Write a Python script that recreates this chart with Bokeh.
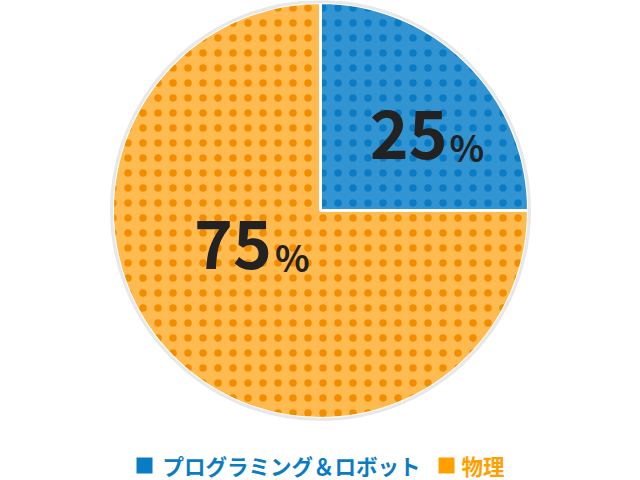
import math
from bokeh.plotting import figure
from bokeh.models import Range1d, ColumnDataSource
from bokeh.core.properties import value
from bokeh.embed import file_html
from bokeh.resources import INLINE

# ---- data ----
categories = ["プログラミング＆ロボット", "物理"]
shares = [25, 75]
pct_numbers = ["25", "75"]
pct_sign = ["%", "%"]
fill_colors = ["#3394D2", "#FFBB4F"]
dot_colors = ["#0A7CC6", "#F28D00"]
legend_colors = ["#0A7CC4", "#FF9F00"]

# ---- layout ----
W, H = 640, 480
cx, cy, R = 320, 270, 208

p = figure(width=W, height=H, x_range=Range1d(0, W), y_range=Range1d(0, H),
           output_backend="svg", toolbar_location=None, min_border=0)
p.axis.visible = False
p.grid.visible = False
p.outline_line_color = None
p.background_fill_color = "white"
p.border_fill_color = "white"

total = float(sum(shares))
starts, ends, mids = [], [], []
cum = 0.0
for s in shares:
    a0 = math.pi / 2 - cum / total * 2 * math.pi
    cum += s
    a1 = math.pi / 2 - cum / total * 2 * math.pi
    starts.append(a0)
    ends.append(a1)
    mids.append((a0 + a1) / 2)

src = ColumnDataSource(dict(start=starts, end=ends, fill=fill_colors, dots=dot_colors))
p.wedge(x=cx, y=cy, radius=R, start_angle="start", end_angle="end", direction="clock",
        fill_color="fill", line_color="white", line_width=3,
        hatch_pattern=".", hatch_scale=15, hatch_color="dots", source=src)
p.circle(x=[cx], y=[cy], radius=R + 1, fill_color=None, line_color="#E8E8E8", line_width=3)

# percent labels (anchored at mid-angle, then nudged in screen pixels)
lab_r = [126, 80]
num_dx = [38, 8]
num_dy = [13, -23]
sign_dx = [40, 11]
sign_dy = [25, -11]
num_x, num_y = [], []
for i, m in enumerate(mids):
    num_x.append(cx + lab_r[i] * math.cos(m))
    num_y.append(cy + lab_r[i] * math.sin(m))
lsrc = ColumnDataSource(dict(x=num_x, y=num_y, num=pct_numbers, sign=pct_sign,
                             ndx=num_dx, ndy=num_dy, sdx=sign_dx, sdy=sign_dy))
p.text(x="x", y="y", text="num", source=lsrc, text_font=value("Noto Sans CJK JP"),
       text_font_style="bold", text_font_size="66px", text_color="#222222",
       text_align="right", text_baseline="middle", x_offset="ndx", y_offset="ndy")
p.text(x="x", y="y", text="sign", source=lsrc, text_font=value("Noto Sans CJK JP"),
       text_font_style="bold", text_font_size="36px", text_color="#222222",
       text_align="left", text_baseline="middle", x_offset="sdx", y_offset="sdy")

# legend
leg_y = 15
sq_x = [144, 446]
tx_x = [162, 461]
gsrc = ColumnDataSource(dict(sx=sq_x, tx=tx_x, y=[leg_y, leg_y], c=legend_colors, t=categories))
p.scatter(x="sx", y="y", marker="square", size=16, fill_color="c", line_color=None, source=gsrc)
p.text(x="tx", y="y", text="t", source=gsrc, text_font=value("Noto Sans CJK JP"),
       text_font_style="bold", text_font_size="21.5px", text_color="c",
       text_align="left", text_baseline="middle")

open("out.html", "w").write(file_html(p, INLINE))
